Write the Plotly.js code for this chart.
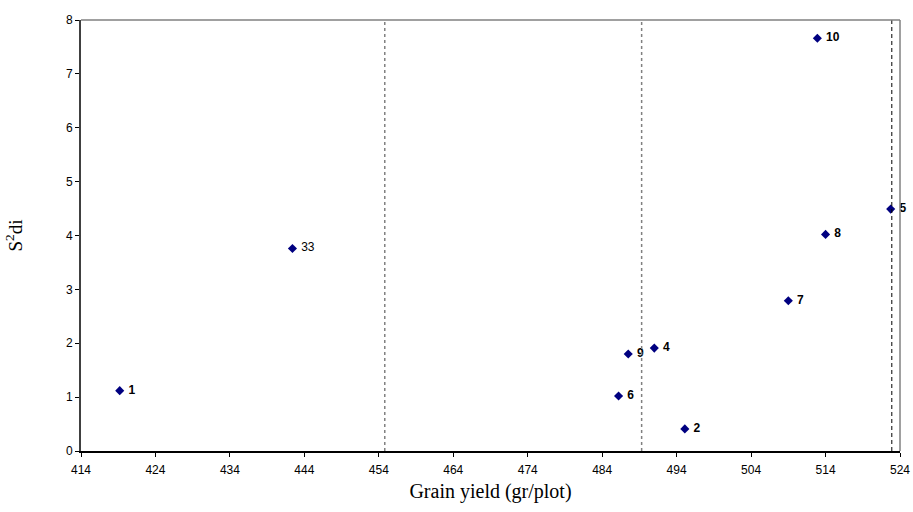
<!DOCTYPE html>
<html>
<head>
<meta charset="utf-8">
<script src="https://cdn.plot.ly/plotly-3.0.1.min.js"></script>
<style>html,body{margin:0;padding:0;background:#fff;}#chart{width:913px;height:512px;}</style>
</head>
<body>
<div id="chart"></div>
<script>
// Genotype labels, grain yield (x) and S²di (y)
const genotypes = ["1", "33", "6", "9", "4", "2", "7", "10", "8", "5"];
const grainYield = [419.2, 442.4, 486.2, 487.5, 491.0, 495.1, 509.0, 512.9, 514.0, 522.75];
const s2di = [1.12, 3.76, 1.02, 1.80, 1.91, 0.41, 2.79, 7.66, 4.02, 4.49];
const boldLabel = [true, false, true, true, true, true, true, true, true, true];
// Reference (dashed) lines on the yield axis
const refLines = [454.8, 489.3, 522.9];
const refColors = ["#808080", "#808080", "#000000"];
const xTickVals = [414, 424, 434, 444, 454, 464, 474, 484, 494, 504, 514, 524];
const yTickVals = [0, 1, 2, 3, 4, 5, 6, 7, 8];

const trace = {
  x: grainYield,
  y: s2di,
  mode: "markers+text",
  type: "scatter",
  text: genotypes.map((g, i) => "\u00a0" + (boldLabel[i] ? "<b>" + g + "</b>" : g)),
  textposition: "middle right",
  textfont: {family: "Liberation Sans, Arial, sans-serif", size: 12, color: "#000"},
  marker: {symbol: "diamond", size: 7, color: "#000080"},
  cliponaxis: false,
  hoverinfo: "x+y"
};

const shapes = refLines.map((v, i) => ({
  type: "line", xref: "x", yref: "y",
  x0: v, x1: v, y0: 0, y1: 8.05,
  line: {color: refColors[i], width: i < 2 ? 1.5 : 1, dash: i < 2 ? "3px,3px" : "4px,3px"}
}));
// top and right frame (gray)
shapes.push({type: "line", xref: "paper", yref: "paper", x0: 0, x1: 1, y0: 1, y1: 1, line: {color: "#808080", width: 1.5}});
shapes.push({type: "line", xref: "paper", yref: "paper", x0: 1, x1: 1, y0: 0, y1: 1, line: {color: "#808080", width: 1.5}});

const layout = {
  width: 913, height: 512,
  margin: {l: 81, r: 13, t: 20, b: 61},
  paper_bgcolor: "#fff", plot_bgcolor: "#fff",
  showlegend: false,
  font: {family: "Liberation Sans, Arial, sans-serif", size: 12, color: "#000"},
  xaxis: {
    range: [414, 524], tickvals: xTickVals, ticktext: xTickVals.map(String),
    showgrid: false, zeroline: false,
    showline: true, linecolor: "#000", linewidth: 1.5,
    ticks: "outside", ticklen: 4, tickcolor: "#000", tickwidth: 1,
    ticklabelstandoff: 3,
    tickfont: {size: 12},
    title: {text: "Grain yield (gr/plot)", font: {family: "Liberation Serif, Times New Roman, serif", size: 20}, standoff: 8}
  },
  yaxis: {
    range: [0, 8], tickvals: yTickVals, ticktext: yTickVals.map(String),
    showgrid: false, zeroline: false,
    showline: true, linecolor: "#404040", linewidth: 2,
    ticks: "outside", ticklen: 4, tickcolor: "#000", tickwidth: 1,
    tickfont: {size: 12},
    title: {text: "S<sup>2</sup>di", font: {family: "Liberation Serif, Times New Roman, serif", size: 19}, standoff: 38}
  },
  shapes: shapes
};

Plotly.newPlot("chart", [trace], layout, {displayModeBar: false, staticPlot: true});
</script>
</body>
</html>
